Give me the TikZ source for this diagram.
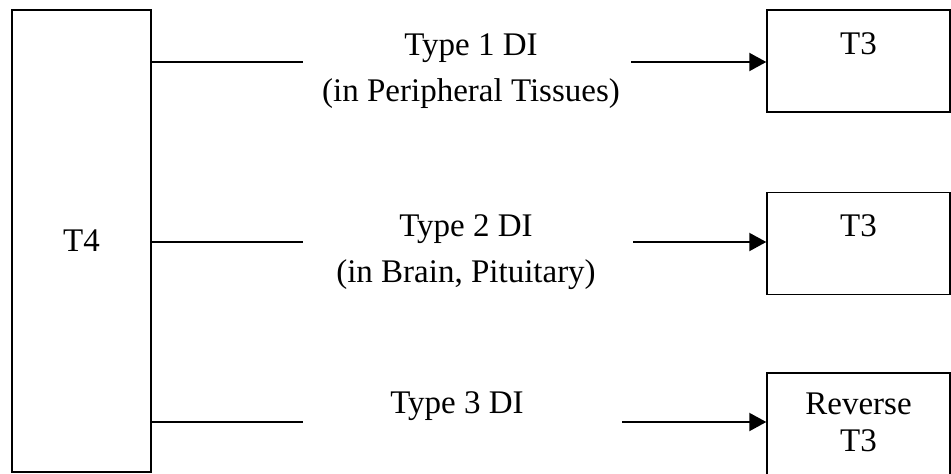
\documentclass[tikz,border=0pt]{standalone}
\usepackage{fontspec}
\setmainfont{Liberation Serif}
\usetikzlibrary{positioning,arrows.meta}

\begin{document}
\begin{tikzpicture}[x=0.5pt, y=0.5pt,
    every node/.style={font=\fontsize{16.5}{23}\selectfont, inner sep=0pt},
    box/.style={draw, line width=0.7pt},
    hormone/.style={box, minimum width=91.5pt, minimum height=51pt},
    enzyme/.style={align=center},
    link/.style={line width=1pt},
    conv/.style={link, -{Triangle[length=8.5pt, width=9pt]}}]
  \useasboundingbox (0,0) rectangle (951,473);

  \node [box, minimum width=69.5pt, minimum height=231pt] (t4) at (81.5,232) {T4};
  \node [hormone] (t3a) at (858.5,412) {};
  \node [hormone, below=39.5pt of t3a] (t3b) {};
  \node [hormone, below=38.5pt of t3b] (rt3) {};

  \node [anchor=base] (t3atxt) at ([yshift=-22.5pt]t3a.north) {T3};
  \node [anchor=base] (t3btxt) at ([yshift=-22.5pt]t3b.north) {T3};
  \node [anchor=base, align=center, font=\fontsize{16.5}{18.5}\selectfont] (rt3txt) at ([yshift=-39.5pt]rt3.north) {Reverse\\T3};

  \node [enzyme] (d1) at (471,402) {Type 1 DI\\(in Peripheral Tissues)};
  \node [enzyme] (d2) at (466,221) {Type 2 DI\\(in Brain, Pituitary)};
  \node [enzyme] (d3) at (457,67) {Type 3 DI};

  \coordinate (l1) at (303,411);
  \coordinate (l2) at (303,231);
  \coordinate (l3) at (303,51);
  \coordinate (a1) at (631,411);
  \coordinate (a2) at (633,231);
  \coordinate (a3) at (622,51);

  \draw [link] (t4.east |- l1) -- (l1);
  \draw [link] (t4.east |- l2) -- (l2);
  \draw [link] (t4.east |- l3) -- (l3);
  \draw [conv] (a1) -- (t3a.west |- a1);
  \draw [conv] (a2) -- (t3b.west |- a2);
  \draw [conv] (a3) -- (rt3.west |- a3);
\end{tikzpicture}
\end{document}
